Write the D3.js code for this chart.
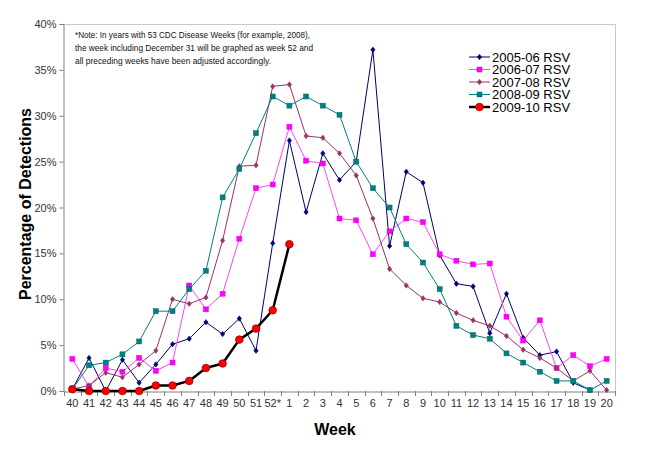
<!doctype html>
<html>
<head>
<script src="https://d3js.org/d3.v7.min.js"></script>
<style>
  body { margin: 0; background: #fff; }
  text { font-family: Arial, "Liberation Sans", sans-serif; }
</style>
</head>
<body>
<svg id="chart" width="656" height="449"></svg>
<script>
// weeks on the x axis
var weeks = ["40","41","42","43","44","45","46","47","48","49","50","51","52*",
  "1","2","3","4","5","6","7","8","9","10","11","12","13","14","15","16","17","18","19","20"];
var yTicks = [0, 5, 10, 15, 20, 25, 30, 35, 40];

var rsv0506 = [0.2,3.6,0.0,3.4,0.9,2.9,5.1,5.7,7.5,6.2,7.9,4.4,16.1,
  27.3,19.5,25.9,23.0,25.0,37.2,15.8,23.9,22.7,14.8,11.7,11.4,6.3,10.6,5.8,3.9,4.3,0.9,0.1,null];
var rsv0607 = [3.5,0.5,2.5,2.1,3.6,2.2,3.1,11.5,8.9,10.6,16.6,22.1,22.5,
  28.8,25.1,24.8,18.8,18.6,14.9,17.4,18.8,18.4,14.9,14.2,13.8,13.9,8.1,5.5,7.7,2.5,3.9,2.7,3.5];
var rsv0708 = [0.2,0.6,2.0,1.5,2.9,4.4,10.0,9.5,10.2,16.4,24.5,24.6,33.2,
  33.4,27.8,27.6,25.9,23.5,18.8,13.3,11.5,10.1,9.7,8.5,7.7,7.1,6.0,4.5,3.6,2.5,1.1,2.2,0.1];
var rsv0809 = [0.2,2.8,3.1,4.0,5.4,8.7,8.7,11.1,13.1,21.1,24.2,28.1,32.1,
  31.1,32.1,31.1,30.1,25.0,22.1,20.0,16.0,14.0,11.1,7.1,6.1,5.7,4.1,3.1,2.1,1.1,1.1,0.1,1.1];
var rsv0910 = [0.2,0.0,0.0,0.0,0.0,0.6,0.6,1.1,2.5,3.0,5.6,6.8,8.8,16.0];

var series = [
  { name: "2005-06 RSV", values: rsv0506, line: "#000066", fill: "#000080", stroke: "#000066", marker: "diamond", size: 4.5, width: 1 },
  { name: "2006-07 RSV", values: rsv0607, line: "#ff44ff", fill: "#ff00ff", stroke: "#e000e0", marker: "square", size: 5, width: 1 },
  { name: "2007-08 RSV", values: rsv0708, line: "#993366", fill: "#993366", stroke: "#993366", marker: "diamond", size: 4.5, width: 1 },
  { name: "2008-09 RSV", values: rsv0809, line: "#008080", fill: "#008080", stroke: "#006666", marker: "square", size: 5, width: 1 },
  { name: "2009-10 RSV", values: rsv0910, line: "#000000", fill: "#ff0000", stroke: "#990000", marker: "circle", size: 3.8, width: 2.5 }
];

var svg = d3.select("#chart");
var plotL = 64, plotR = 615, plotT = 24, plotB = 391;

var x = d3.scaleBand().domain(weeks).range([plotL, plotR]).padding(0);
var y = d3.scaleLinear().domain([0, 40]).range([plotB, plotT]);
var cx = function(i) { return x(weeks[i]) + x.bandwidth() / 2; };

// plot area border (top and right)
svg.append("path")
  .attr("d", "M" + plotL + "," + (plotT + 0.5) + "H" + (plotR + 0.5) + "V" + plotB)
  .attr("fill", "none").attr("stroke", "#c8c8c8").attr("stroke-width", 1);

// y axis
var yAxis = svg.append("g").attr("transform", "translate(" + (plotL - 0.5) + ",0)")
  .call(d3.axisLeft(y).tickValues(yTicks).tickSize(4).tickPadding(3)
    .tickFormat(function(d) { return d + "%"; }));
yAxis.select(".domain").attr("stroke", "#808080");
yAxis.selectAll(".tick line").attr("stroke", "#808080");
yAxis.selectAll("text").attr("font-size", "11px").attr("fill", "#333")
  .attr("font-family", "Arial, 'Liberation Sans', sans-serif");

// x axis
var xAxis = svg.append("g").attr("transform", "translate(0," + (plotB + 0.5) + ")")
  .call(d3.axisBottom(x).tickSize(0).tickPadding(8));
xAxis.select(".domain").attr("stroke", "#808080");
xAxis.selectAll("text").attr("font-size", "11px").attr("fill", "#333")
  .attr("font-family", "Arial, 'Liberation Sans', sans-serif");
// tick marks between categories
svg.append("g").selectAll("line")
  .data(d3.range(weeks.length + 1))
  .enter().append("line")
  .attr("x1", function(i) { return Math.round(plotL + i * x.bandwidth()) + 0.5; })
  .attr("x2", function(i) { return Math.round(plotL + i * x.bandwidth()) + 0.5; })
  .attr("y1", plotB).attr("y2", plotB + 5)
  .attr("stroke", "#808080");

// axis titles
svg.append("text")
  .attr("transform", "translate(31,204) rotate(-90)")
  .attr("text-anchor", "middle")
  .attr("font-size", "16px").attr("font-weight", "bold")
  .text("Percentage of Detections");
svg.append("text")
  .attr("x", 335).attr("y", 435)
  .attr("text-anchor", "middle")
  .attr("font-size", "16px").attr("font-weight", "bold")
  .text("Week");

// note
var notes = ["*Note: In years with 53 CDC Disease Weeks (for example, 2008),",
  "the week including December 31 will be graphed as week 52 and",
  "all preceding weeks have been adjusted accordingly."];
var noteW = [235, 238, 196];
svg.append("g").selectAll("text").data(notes).enter().append("text")
  .attr("x", 75).attr("y", function(d, i) { return 38 + i * 13; })
  .attr("font-size", "8.5px").attr("fill", "#111")
  .attr("font-family", "Tahoma, 'DejaVu Sans', sans-serif")
  .attr("textLength", function(d, i) { return noteW[i]; })
  .attr("lengthAdjust", "spacingAndGlyphs")
  .text(function(d) { return d; });

function drawMarker(g, s, px, py) {
  if (s.marker === "circle") {
    g.append("circle").attr("cx", px).attr("cy", py).attr("r", s.size)
      .attr("fill", s.fill).attr("stroke", s.stroke).attr("stroke-width", 0.8);
  } else if (s.marker === "square") {
    var h = s.size / 2;
    g.append("rect").attr("x", px - h).attr("y", py - h)
      .attr("width", s.size).attr("height", s.size)
      .attr("fill", s.fill).attr("stroke", s.stroke).attr("stroke-width", 0.5);
  } else {
    var r = s.size / 2 + 0.5;
    g.append("path")
      .attr("d", "M" + px + "," + (py - r) + "L" + (px + r * 0.8) + "," + py +
        "L" + px + "," + (py + r) + "L" + (px - r * 0.8) + "," + py + "Z")
      .attr("fill", s.fill).attr("stroke", s.stroke).attr("stroke-width", 0.5);
  }
}

// series
var line = d3.line()
  .defined(function(d) { return d != null; })
  .x(function(d, i) { return cx(i); })
  .y(function(d) { return y(d); });

series.forEach(function(s) {
  var g = svg.append("g");
  g.append("path").datum(s.values)
    .attr("fill", "none").attr("stroke", s.line)
    .attr("stroke-width", s.width).attr("stroke-linejoin", "round")
    .attr("d", line);
  s.values.forEach(function(v, i) {
    if (v != null) drawMarker(g, s, cx(i), y(v));
  });
});

// legend
var lg = svg.append("g");
series.forEach(function(s, i) {
  var ly = 57 + i * 12.5;
  lg.append("line").attr("x1", 469).attr("x2", 490).attr("y1", ly).attr("y2", ly)
    .attr("stroke", s.line).attr("stroke-width", s.width);
  drawMarker(lg, s, 479.5, ly);
  lg.append("text").attr("x", 492).attr("y", ly + 4.5)
    .attr("font-size", "13px").attr("fill", "#000")
    .text(s.name);
});
</script>
</body>
</html>
